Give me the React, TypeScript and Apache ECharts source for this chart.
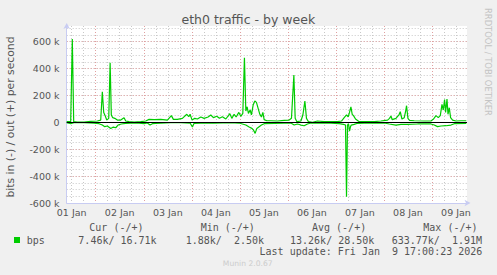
import React, { useEffect, useRef } from 'react';
import * as echarts from 'echarts';

// Time in hours since 01 Jan 00:00
const dayLabels = ['01 Jan', '02 Jan', '03 Jan', '04 Jan', '05 Jan', '06 Jan', '07 Jan', '08 Jan', '09 Jan'];
const yTickValues = [-600, -400, -200, 0, 200, 400, 600];

// out (+), values in k bits/s
const outPoints: [number, number][] = [
  [9.5, 5], [11.5, 5], [12.3, 620], [13.0, 5], [14.8, 2], [18.2, 2], [21.5, 7], [24.8, 10],
  [26.5, 17], [27.3, 228], [28.0, 74], [28.7, 50], [29.5, 17], [30.5, 30], [31.2, 444], [31.8, 55],
  [32.5, 35], [33.5, 30], [34.8, 17], [36.5, 17], [38.15, 35], [39.0, 10], [40.6, 5], [43.2, 2],
  [46.5, 5], [49.0, 10], [50.65, 22], [53.2, 20], [56.5, 22], [59.8, 17], [61.8, 50], [62.8, 22],
  [64.8, 22], [67.3, 30], [69.5, 60], [70.5, 42], [71.15, 60], [72.15, 17], [73.5, 30], [74.8, 25],
  [76.5, 40], [78.15, 30], [80.15, 40], [81.5, 55], [82.8, 35], [84.5, 45], [85.8, 30], [87.3, 42],
  [89.0, 25], [91.0, 65], [92.0, 30], [93.15, 60], [94.15, 40], [95.5, 74], [96.5, 45], [97.5, 67],
  [98.3, 481], [99.0, 84], [99.65, 116], [100.3, 67], [101.15, 92], [101.8, 55], [102.65, 129], [103.5, 159],
  [104.3, 149], [105.15, 104], [106.0, 60], [106.8, 40], [107.5, 74], [108.15, 20], [109.5, 12], [111.5, 12],
  [114.8, 10], [118.15, 15], [120.65, 17], [121.8, 30], [123.0, 352], [123.65, 30], [124.5, 5], [126.5, 10],
  [127.5, 55], [128.5, 159], [129.3, 30], [130.3, 5], [132.3, 0], [134.8, 10], [138.15, 5], [141.5, 5],
  [144.8, 5], [146.8, 10], [148.15, 35], [149.3, 55], [150.15, 42], [150.8, 74], [151.5, 116], [152.15, 60],
  [152.8, 50], [153.8, 25], [155.65, 5], [158.15, 5], [163.15, 5], [166.5, 10], [169.8, 17], [170.8, 30],
  [171.5, 47], [172.15, 20], [174.0, 30], [175.5, 55], [176.15, 79], [177.0, 25], [178.15, 35], [178.8, 79],
  [179.3, 124], [180.0, 30], [180.8, 15], [183.15, 12], [188.15, 10], [191.5, 10], [192.8, 25], [194.0, 50],
  [195.15, 35], [196.15, 50], [197.0, 134], [197.65, 92], [198.3, 169], [198.8, 74], [199.5, 173], [200.0, 60],
  [200.65, 109], [201.3, 35], [202.3, 17], [204.0, 10], [206.5, 12], [209.15, 12]
];

// in (-), values in k bits/s
const inPoints: [number, number][] = [
  [9.5, -3], [11.5, -10], [13.15, -3], [18.15, -3], [23.15, -5], [25.65, -10], [27.3, -20], [28.5, -32],
  [29.8, -27], [31.5, -45], [32.8, -35], [34.0, -40], [35.15, -20], [36.8, -12], [39.0, -7], [41.5, -5],
  [45.65, -5], [48.15, -10], [49.8, -5], [51.15, -20], [52.3, -10], [54.0, -7], [56.5, -5], [61.5, -3],
  [66.5, -3], [71.15, -5], [72.3, -35], [73.15, -7], [76.5, -5], [83.15, -5], [91.5, -3], [95.65, -5],
  [97.3, -12], [99.0, -20], [100.65, -35], [102.0, -45], [102.8, -57], [103.65, -82], [104.5, -45], [105.65, -32],
  [106.8, -20], [108.15, -10], [118.15, -5], [121.5, -5], [123.15, -20], [124.8, -12], [126.5, -20], [128.15, -25],
  [129.8, -12], [131.5, -5], [141.5, -5], [145.65, -10], [147.8, -15], [148.8, -20], [149.3, -553], [149.8, -20],
  [150.3, -10], [150.8, -65], [151.3, -32], [151.65, -20], [153.15, -15], [154.8, -7], [158.15, -5], [168.15, -5],
  [170.65, -12], [174.0, -20], [176.5, -15], [179.8, -15], [184.8, -12], [191.5, -12], [193.15, -20], [194.8, -32],
  [196.5, -27], [199.0, -25], [201.5, -20], [203.15, -10], [209.15, -7]
];

const statHeaders = ['Cur (-/+)', 'Min (-/+)', 'Avg (-/+)', 'Max (-/+)'];
const statIn = ['7.46k', '1.88k', '13.26k', '633.77k'];
const statOut = ['16.71k', '2.50k', '28.50k', '1.91M'];
const seriesName = 'bps';
const titleText = 'eth0 traffic - by week';
const yAxisTitle = 'bits in (-) / out (+) per second';
const lastUpdate = 'Last update: Fri Jan  9 17:00:23 2026';
const sideText = 'RRDTOOL / TOBI OETIKER';
const footer = 'Munin 2.0.67';

const X_MIN = 9.5;
const X_MAX = 209.5;

export default function App() {
  const ref = useRef<HTMLDivElement>(null);
  useEffect(() => {
    document.body.style.margin = '0';
    if (!ref.current) return;
    const chart = echarts.init(ref.current, undefined, { renderer: 'svg' });

    const labelHours = dayLabels.map((_, i) => 12 + 24 * i);
    const majorHours: number[] = [];
    const minorHours: number[] = [];
    for (let h = 6; h < X_MAX; h += 6) {
      if (h <= X_MIN) continue;
      if (h % 24 === 0) majorHours.push(h);
      else minorHours.push(h);
    }

    const sans = '"DejaVu Sans", sans-serif';
    const mono = '"DejaVu Sans Mono", monospace';
    const txt = '#555555';
    const green = '#00cc00';
    const axisCol = '#c8ccf2';
    const minorCol = '#c8c8c8';
    const majorCol = '#e0a0a0';

    const colBase = [66.3, 173.7, 284, 391.7];
    const headerX = [89.3, 200.7, 312, 423.3];
    const cw = 6.02;

    const graphics: any[] = [
      { type: 'text', x: 248.3, y: 19.5, style: { text: titleText, fill: txt, font: `12.5px ${sans}`, textAlign: 'center', textVerticalAlign: 'middle' } },
      { type: 'text', x: 10, y: 117, rotation: Math.PI / 2, style: { text: yAxisTitle, fill: txt, font: `10.8px ${sans}`, textAlign: 'center', textVerticalAlign: 'middle' } },
      { type: 'text', x: 488, y: 8, rotation: -Math.PI / 2, style: { text: sideText, fill: '#c4c4c4', font: `8.4px ${sans}`, textAlign: 'left', textVerticalAlign: 'middle' } },
      { type: 'rect', shape: { x: 14, y: 237, width: 6, height: 6 }, style: { fill: green } },
      { type: 'text', x: 26.7, y: 240, style: { text: seriesName, fill: txt, font: `10px ${mono}`, textAlign: 'left', textVerticalAlign: 'middle' } },
      { type: 'text', x: 482.3, y: 251.7, style: { text: lastUpdate, fill: txt, font: `10px ${mono}`, textAlign: 'right', textVerticalAlign: 'middle' } },
      { type: 'text', x: 247.7, y: 263.3, style: { text: footer, fill: '#cccccc', font: `7.6px ${sans}`, textAlign: 'center', textVerticalAlign: 'middle' } },
    ];
    statHeaders.forEach((h, i) => {
      graphics.push({ type: 'text', x: headerX[i], y: 227.7, style: { text: h, fill: txt, font: `10px ${mono}`, textAlign: 'left', textVerticalAlign: 'middle' } });
      graphics.push({ type: 'text', x: colBase[i] + 8 * cw, y: 240, style: { text: statIn[i] + '/', fill: txt, font: `10px ${mono}`, textAlign: 'right', textVerticalAlign: 'middle' } });
      graphics.push({ type: 'text', x: colBase[i] + 15 * cw, y: 240, style: { text: statOut[i], fill: txt, font: `10px ${mono}`, textAlign: 'right', textVerticalAlign: 'middle' } });
    });

    const option: any = {
      animation: false,
      backgroundColor: '#f0f0f0',
      grid: { left: 66.7, top: 26, width: 400.3, height: 177, show: true, backgroundColor: '#ffffff', borderWidth: 0, containLabel: false },
      xAxis: [
        {
          type: 'value', min: X_MIN, max: X_MAX, position: 'bottom',
          axisLine: { show: true, onZero: false, lineStyle: { color: axisCol, width: 1 }, symbol: ['none', 'arrow'], symbolSize: [5, 6], symbolOffset: [0, 3.5] },
          axisTick: { show: false, customValues: minorHours },
          splitLine: { show: true, lineStyle: { color: minorCol, width: 1, type: [1, 2] } },
          axisLabel: {
            customValues: labelHours, color: txt, fontSize: 9.5, fontFamily: sans, margin: 4,
            formatter: (v: number) => dayLabels[Math.round((v - 12) / 24)] ?? '',
          },
        },
        {
          type: 'value', min: X_MIN, max: X_MAX, position: 'bottom',
          axisLine: { show: false, onZero: false },
          axisTick: { show: false, customValues: majorHours },
          splitLine: { show: true, lineStyle: { color: majorCol, width: 1, type: [1, 2] } },
          axisLabel: { show: false },
        },
      ],
      yAxis: [
        {
          type: 'value', min: -600, max: 717, interval: 50,
          axisLine: { show: true, onZero: false, lineStyle: { color: axisCol, width: 1 }, symbol: ['none', 'arrow'], symbolSize: [5, 6], symbolOffset: [0, 3] },
          axisTick: { show: false },
          splitLine: { show: true, showMinLine: false, showMaxLine: false, lineStyle: { color: minorCol, width: 1, type: [1, 2] } },
          axisLabel: { show: false },
        },
        {
          type: 'value', min: -600, max: 717, interval: 200, position: 'left',
          axisLine: { show: false, onZero: false },
          axisTick: { show: false },
          splitLine: { show: true, showMinLine: false, showMaxLine: false, lineStyle: { color: majorCol, width: 1, type: [1, 2] } },
          axisLabel: {
            color: txt, fontSize: 9.5, fontFamily: sans, margin: 7.2,
            formatter: (v: number) => (yTickValues.includes(v) ? (v === 0 ? '0' : `${v} k`) : ''),
          },
        },
      ],
      series: [
        {
          type: 'line', name: 'in', data: inPoints, xAxisIndex: 0, yAxisIndex: 0, showSymbol: false, z: 2,
          lineStyle: { color: green, width: 1.2 }, itemStyle: { color: green },
        },
        {
          type: 'line', name: 'out', data: outPoints, xAxisIndex: 0, yAxisIndex: 0, showSymbol: false, z: 2,
          lineStyle: { color: green, width: 1.2 }, itemStyle: { color: green },
        },
        {
          type: 'line', name: 'zero', data: [], xAxisIndex: 0, yAxisIndex: 0, z: 4,
          markLine: { silent: true, symbol: 'none', label: { show: false }, lineStyle: { color: '#000000', width: 1, type: 'solid' }, data: [{ yAxis: 0 }] },
        },
      ],
      graphic: graphics,
    };
    chart.setOption(option);
    return () => chart.dispose();
  }, []);
  return <div ref={ref} style={{ width: 497, height: 275 }} />;
}
